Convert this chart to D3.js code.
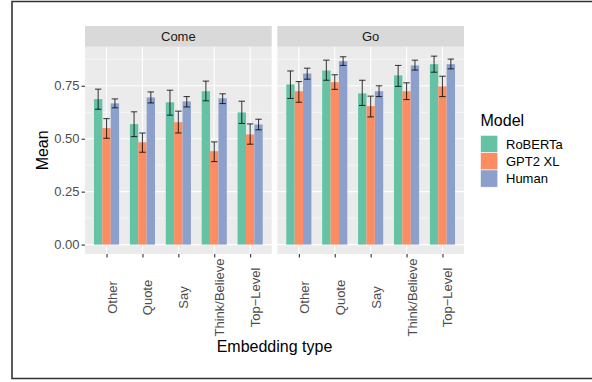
<html>
<script src="https://cdn.jsdelivr.net/npm/d3@7"></script>
<style>
html, body { margin: 0; background: #fff; overflow: hidden; }
svg { display: block; }
text { font-family: "Liberation Sans", Arial, sans-serif; }
</style>
<body>
</body>
<script>

// facets, categories, models
var panels = ["Come", "Go"];
var categories = ["Other", "Quote", "Say", "Think/Believe", "Top\u2212Level"];
var models = ["RoBERTa", "GPT2 XL", "Human"];
var colors = ["#66C2A5", "#FC8D62", "#8DA0CB"];
var yTicks = [0, 0.25, 0.5, 0.75];
var yMinor = [0.125, 0.375, 0.625, 0.875];

// Come
var comeRobertaMean = [0.687, 0.569, 0.672, 0.724, 0.624];
var comeRobertaLo   = [0.639, 0.510, 0.611, 0.679, 0.572];
var comeRobertaHi   = [0.734, 0.627, 0.729, 0.772, 0.677];
var comeGptMean = [0.550, 0.483, 0.578, 0.441, 0.520];
var comeGptLo   = [0.502, 0.436, 0.527, 0.392, 0.474];
var comeGptHi   = [0.595, 0.527, 0.630, 0.485, 0.570];
var comeHumanMean = [0.667, 0.695, 0.676, 0.691, 0.567];
var comeHumanLo   = [0.646, 0.669, 0.650, 0.666, 0.542];
var comeHumanHi   = [0.688, 0.721, 0.699, 0.712, 0.592];

// Go
var goRobertaMean = [0.756, 0.822, 0.714, 0.799, 0.852];
var goRobertaLo   = [0.690, 0.776, 0.657, 0.747, 0.814];
var goRobertaHi   = [0.820, 0.871, 0.776, 0.846, 0.890];
var goGptMean = [0.724, 0.767, 0.654, 0.724, 0.747];
var goGptLo   = [0.672, 0.733, 0.603, 0.685, 0.699];
var goGptHi   = [0.770, 0.802, 0.701, 0.764, 0.795];
var goHumanMean = [0.808, 0.866, 0.724, 0.846, 0.852];
var goHumanLo   = [0.781, 0.846, 0.699, 0.824, 0.830];
var goHumanHi   = [0.833, 0.887, 0.750, 0.871, 0.876];

var series = {
	"Come": [[comeRobertaMean, comeRobertaLo, comeRobertaHi],
	         [comeGptMean, comeGptLo, comeGptHi],
	         [comeHumanMean, comeHumanLo, comeHumanHi]],
	"Go":   [[goRobertaMean, goRobertaLo, goRobertaHi],
	         [goGptMean, goGptLo, goGptHi],
	         [goHumanMean, goHumanLo, goHumanHi]]
};

// flat rows
var rows = [];
panels.forEach(function(p) {
	models.forEach(function(m, mi) {
		categories.forEach(function(c, ci) {
			rows.push({panel: p, model: m, cat: c,
				mean: series[p][mi][0][ci], lo: series[p][mi][1][ci], hi: series[p][mi][2][ci]});
		});
	});
});

var W = 592, H = 382;
var svg = d3.select("body").append("svg").attr("width", W).attr("height", H);

// outer frame: left, top and bottom edges only (right edge is off the picture)
svg.append("path")
	.attr("d", "M" + W + ",1.5 H12 V378.5 H" + W)
	.attr("fill", "none").attr("stroke", "#333").attr("stroke-width", 1.6);

var left = 85, right = 464, gap = 5.6;
var stripTop = 26, panelTop = 46.7, panelBottom = 254;
var panelW = (right - left - gap) / 2;

var ymax = d3.max(rows, function(d) { return d.hi; });
var y = d3.scaleLinear().domain([-0.05 * ymax, 1.05 * ymax]).range([panelBottom, panelTop]);

var x = d3.scalePoint().domain(categories).range([0, panelW]).padding(0.6);
var step = x.step();
var xm = d3.scaleBand().domain(models).range([-0.35 * step, 0.35 * step]);
var color = d3.scaleOrdinal().domain(models).range(colors);

panels.forEach(function(p, pi) {
	var g = svg.append("g").attr("transform", "translate(" + (left + pi * (panelW + gap)) + ",0)");

	g.append("rect").attr("x", 0).attr("y", panelTop).attr("width", panelW)
		.attr("height", panelBottom - panelTop).attr("fill", "#EBEBEB");

	g.selectAll(".minor").data(yMinor).enter().append("line")
		.attr("x1", 0).attr("x2", panelW)
		.attr("y1", function(d) { return y(d); }).attr("y2", function(d) { return y(d); })
		.attr("stroke", "#fff").attr("stroke-width", 0.55);
	g.selectAll(".major").data(yTicks).enter().append("line")
		.attr("x1", 0).attr("x2", panelW)
		.attr("y1", function(d) { return y(d); }).attr("y2", function(d) { return y(d); })
		.attr("stroke", "#fff").attr("stroke-width", 1.1);
	g.selectAll(".vgrid").data(categories).enter().append("line")
		.attr("x1", function(d) { return x(d); }).attr("x2", function(d) { return x(d); })
		.attr("y1", panelTop).attr("y2", panelBottom)
		.attr("stroke", "#fff").attr("stroke-width", 1.1);

	// strip
	g.append("rect").attr("x", 0).attr("y", stripTop).attr("width", panelW)
		.attr("height", panelTop - stripTop).attr("fill", "#D9D9D9");
	g.append("text").attr("x", panelW / 2).attr("y", (stripTop + panelTop) / 2 + 4.6)
		.attr("text-anchor", "middle").attr("fill", "#1A1A1A").style("font-size", "13px")
		.text(p);

	var pr = rows.filter(function(d) { return d.panel === p; });

	g.selectAll(".bar").data(pr).enter().append("rect")
		.attr("x", function(d) { return x(d.cat) + xm(d.model); })
		.attr("width", xm.bandwidth())
		.attr("y", function(d) { return y(d.mean); })
		.attr("height", function(d) { return y(0) - y(d.mean); })
		.attr("fill", function(d) { return color(d.model); });

	var cap = 0.18 * step / 2;
	var eb = g.selectAll(".err").data(pr).enter().append("g")
		.attr("stroke", "#000").attr("stroke-opacity", 0.72).attr("stroke-width", 1.1)
		.attr("transform", function(d) { return "translate(" + (x(d.cat) + xm(d.model) + xm.bandwidth() / 2) + ",0)"; });
	eb.append("line").attr("x1", 0).attr("x2", 0)
		.attr("y1", function(d) { return y(d.lo); }).attr("y2", function(d) { return y(d.hi); });
	eb.append("line").attr("x1", -cap).attr("x2", cap)
		.attr("y1", function(d) { return y(d.lo); }).attr("y2", function(d) { return y(d.lo); });
	eb.append("line").attr("x1", -cap).attr("x2", cap)
		.attr("y1", function(d) { return y(d.hi); }).attr("y2", function(d) { return y(d.hi); });

	// x axis
	var xa = g.append("g").attr("transform", "translate(0," + panelBottom + ")")
		.call(d3.axisBottom(x).tickSize(3.5).tickFormat(""));
	xa.select(".domain").remove();
	xa.selectAll("line").attr("stroke", "#333").attr("stroke-width", 1.1);

	g.selectAll(".xlab").data(categories).enter().append("text")
		.attr("transform", function(d) { return "translate(" + (x(d) + 10) + ",297.5) rotate(-90)"; })
		.attr("text-anchor", "middle").attr("fill", "#4D4D4D").style("font-size", "13px")
		.text(function(d) { return d; });
});

// y axis
var ya = svg.append("g").attr("transform", "translate(" + left + ",0)")
	.call(d3.axisLeft(y).tickValues(yTicks).tickFormat(d3.format(".2f")).tickSize(3.5).tickPadding(2));
ya.select(".domain").remove();
ya.selectAll("line").attr("stroke", "#333").attr("stroke-width", 1.1);
ya.selectAll("text").attr("fill", "#4D4D4D").style("font-size", "13px")
	.style("font-family", "Liberation Sans, Arial, sans-serif");

// axis titles
svg.append("text")
	.attr("transform", "translate(47.5," + ((panelTop + panelBottom) / 2) + ") rotate(-90)")
	.attr("text-anchor", "middle").style("font-size", "16px").text("Mean");
svg.append("text").attr("x", (left + right) / 2).attr("y", 351.5)
	.attr("text-anchor", "middle").style("font-size", "16px").text("Embedding type");

// legend
var lg = svg.append("g").attr("transform", "translate(480.5,0)");
lg.append("text").attr("x", 0).attr("y", 126).style("font-size", "16px").text("Model");
var key = 17.3;
models.forEach(function(m, i) {
	lg.append("rect").attr("x", 0).attr("y", 135.3 + i * key).attr("width", key).attr("height", key)
		.attr("fill", color(m)).attr("stroke", "#fff").attr("stroke-width", 0.6);
	lg.append("text").attr("x", 25.5).attr("y", 135.3 + i * key + key / 2 + 4.6)
		.style("font-size", "13px").text(m);
});

</script>
</html>
